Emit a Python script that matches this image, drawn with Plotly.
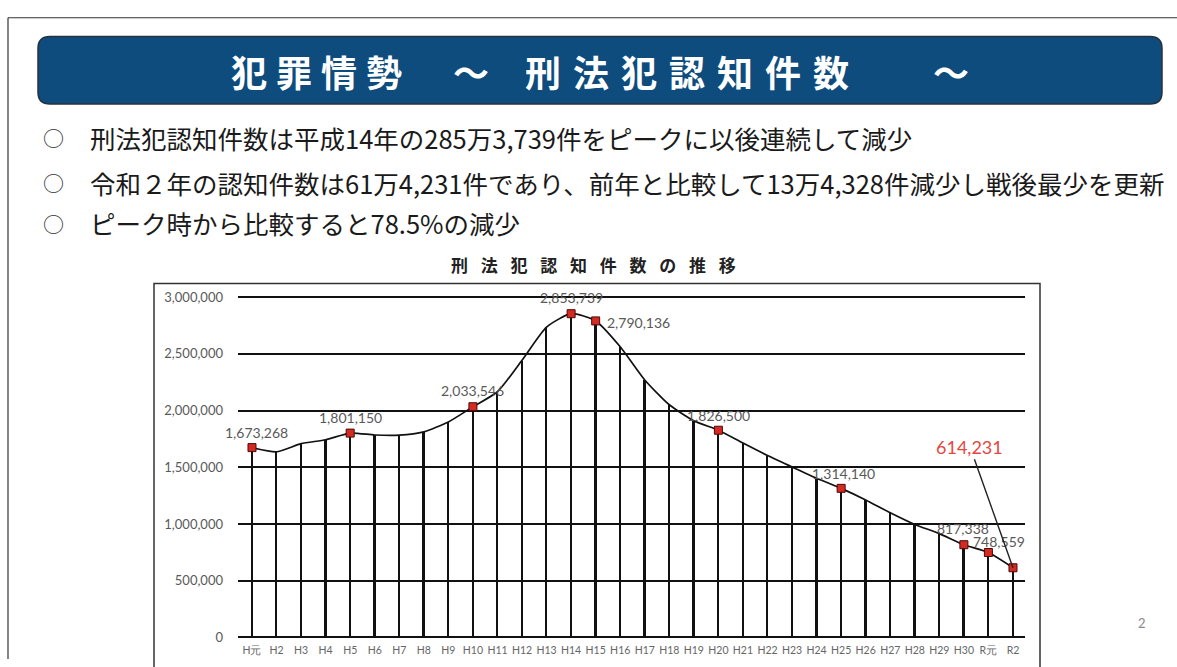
import plotly.graph_objects as go

# ---------------- data ----------------
categories = ["H元", "H2", "H3", "H4", "H5", "H6", "H7", "H8", "H9", "H10",
              "H11", "H12", "H13", "H14", "H15", "H16", "H17", "H18", "H19", "H20",
              "H21", "H22", "H23", "H24", "H25", "H26", "H27", "H28", "H29", "H30",
              "R元", "R2"]
counts = [1673268, 1636628, 1707877, 1742366, 1801150, 1784432, 1782944, 1812119,
          1899564, 2033546, 2165626, 2443470, 2735612, 2853739, 2790136, 2562767,
          2269572, 2050850, 1908836, 1826500, 1713832, 1604019, 1502951, 1403167,
          1314140, 1212163, 1098969, 996120, 915042, 817338, 748559, 614231]
marked = ["H元", "H5", "H10", "H14", "H15", "H20", "H25", "H30", "R元", "R2"]
y_ticks = [0, 500000, 1000000, 1500000, 2000000, 2500000, 3000000]

banner_title = "犯罪情勢"
banner_title2 = "刑法犯認知件数"
chart_title = "刑法犯認知件数の推移"
bullets = [
    "刑法犯認知件数は平成14年の285万3,739件をピークに以後連続して減少",
    "令和２年の認知件数は61万4,231件であり、前年と比較して13万4,328件減少し戦後最少を更新",
    "ピーク時から比較すると78.5%の減少",
]
page_no = "2"

# ---------------- styles ----------------
W, H = 1177, 667
JP = "Noto Sans CJK JP"
NUM = "Lato"
GRAY = "#595959"

def X(x):
    return x / W

def Y(y):
    return 1 - y / H

value_of = dict(zip(categories, counts))
# label offsets (pixels) for marked points
label_style = {
    "H元": dict(xshift=5, yshift=15, xanchor="center"),
    "H5": dict(xshift=0, yshift=16, xanchor="center"),
    "H10": dict(xshift=0, yshift=16, xanchor="center"),
    "H14": dict(xshift=0, yshift=16, xanchor="center"),
    "H15": dict(xshift=9, yshift=-2, xanchor="left"),
    "H20": dict(xshift=0, yshift=15, xanchor="center"),
    "H25": dict(xshift=2, yshift=15, xanchor="center"),
    "H30": dict(xshift=-1, yshift=16, xanchor="center"),
    "R元": dict(xshift=11, yshift=11, xanchor="center"),
}

fig = go.Figure()

# drop lines
fig.add_trace(go.Bar(x=categories, y=counts, width=0.075,
                     marker=dict(color="#111111", line=dict(width=0)),
                     hoverinfo="skip"))
# main line
fig.add_trace(go.Scatter(x=categories, y=counts, mode="lines",
                         line=dict(color="#111111", width=1.7, shape="spline", smoothing=0.6),
                         hoverinfo="skip"))
# markers
fig.add_trace(go.Scatter(x=marked, y=[value_of[c] for c in marked], mode="markers",
                         marker=dict(symbol="square", size=8, color="#D42A22",
                                     line=dict(color="#4A0A0A", width=1)),
                         hoverinfo="skip"))

annotations = []
for c in marked:
    if c in label_style:
        s = label_style[c]
        annotations.append(dict(x=c, y=value_of[c], xref="x", yref="y", text=f"{value_of[c]:,}",
                                showarrow=False, font=dict(family=NUM, size=14, color=GRAY),
                                xshift=s["xshift"], yshift=s["yshift"], xanchor=s["xanchor"],
                                yanchor="middle"))
# highlighted last value
last = categories[-1]
annotations.append(dict(x=last, y=value_of[last], xref="x", yref="y", text=f"{value_of[last]:,}",
                        showarrow=True, arrowhead=0, arrowwidth=1.4, arrowcolor="#222222",
                        ax=-43, ay=-121, standoff=0,
                        font=dict(family=NUM, size=18, color="#E5463E")))

# banner title (spaced characters)
banner_text = ("\u2005".join(banner_title) + "\u3000\u2005\u2006" + "～" + "\u3000"
               + "\u2004".join(banner_title2) + "\u3000\u3000\u2004" + "～")
annotations.append(dict(x=X(600), y=Y(67), xref="paper", yref="paper", text=banner_text,
                        showarrow=False, xanchor="center", yanchor="middle",
                        font=dict(family=JP, size=36, color="white", weight="bold")))
# bullets
for i, (t, yy) in enumerate(zip(bullets, [135, 181, 222])):
    annotations.append(dict(x=X(53), y=Y(yy), xref="paper", yref="paper", text="○",
                            showarrow=False, xanchor="center", yanchor="middle",
                            font=dict(family=JP, size=21, color="#333333")))
    annotations.append(dict(x=X(88), y=Y(yy), xref="paper", yref="paper", text=t,
                            showarrow=False, xanchor="left", yanchor="middle",
                            font=dict(family=JP, size=25.5, color="#1a1a1a")))
# chart title
annotations.append(dict(x=X(594), y=Y(265), xref="paper", yref="paper",
                        text=("\u2002\u2005").join(chart_title),
                        showarrow=False, xanchor="center", yanchor="middle",
                        font=dict(family=JP, size=17, color="#222222", weight="bold")))
# page number
annotations.append(dict(x=X(1148), y=Y(640), xref="paper", yref="paper", text=page_no,
                        showarrow=False, font=dict(family=NUM, size=13, color="#8a8a8a")))

r = 12
x0, y0, x1, y1 = 38, 32, 1162, 101
banner_path = (f"M {X(x0+r)},{Y(y0)} L {X(x1-r)},{Y(y0)} Q {X(x1)},{Y(y0)} {X(x1)},{Y(y0+r)} "
               f"L {X(x1)},{Y(y1-r)} Q {X(x1)},{Y(y1)} {X(x1-r)},{Y(y1)} L {X(x0+r)},{Y(y1)} "
               f"Q {X(x0)},{Y(y1)} {X(x0)},{Y(y1-r)} L {X(x0)},{Y(y0+r)} Q {X(x0)},{Y(y0)} {X(x0+r)},{Y(y0)} Z")

shapes = [
    # slide frame
    dict(type="line", xref="paper", yref="paper", x0=X(8), x1=1.0, y0=Y(13), y1=Y(13),
         line=dict(color="#333333", width=1.2)),
    dict(type="line", xref="paper", yref="paper", x0=X(8), x1=X(8), y0=Y(13), y1=0,
         line=dict(color="#333333", width=1.2)),
    # banner
    dict(type="path", xref="paper", yref="paper", path=banner_path,
         fillcolor="#0E4C7D", line=dict(color="#26323d", width=1.5), layer="below"),
    # chart frame
    dict(type="rect", xref="paper", yref="paper", x0=X(154), x1=X(1040), y0=Y(700), y1=Y(284),
         line=dict(color="#333333", width=1.5), fillcolor="rgba(0,0,0,0)", layer="below"),
]

fig.update_layout(
    width=W, height=H, margin=dict(l=0, r=0, t=0, b=0),
    paper_bgcolor="white", plot_bgcolor="white", showlegend=False,
    bargap=0, annotations=annotations, shapes=shapes,
    xaxis=dict(type="category", categoryorder="array", categoryarray=categories,
               range=[-0.57, 31.49], domain=[X(238), X(1025)],
               showgrid=False, zeroline=False, showline=False, ticks="",
               tickfont=dict(family=NUM, size=10.5, color="#666666"), ticklabelstandoff=5,
               fixedrange=True),
    yaxis=dict(range=[0, 3030000], domain=[Y(645), Y(645) + (3030000 / 1e6) * 115.7 / H],
               tickvals=y_ticks, tickformat=",", showgrid=True, gridcolor="#111111", gridwidth=1.8,
               zeroline=True, zerolinecolor="#111111", zerolinewidth=1.8, showline=False, ticks="",
               tickfont=dict(family=NUM, size=13, color=GRAY), ticklabelstandoff=14,
               fixedrange=True),
)

fig.write_html("out.html")
